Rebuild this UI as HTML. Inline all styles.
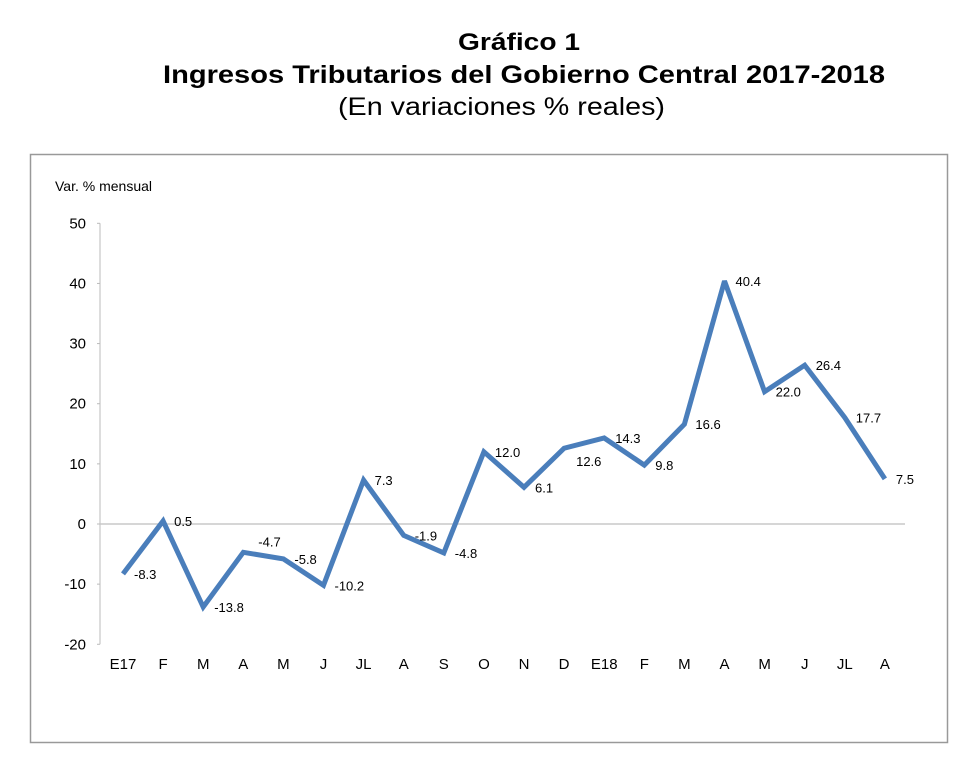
<!DOCTYPE html>
<html><head><meta charset="utf-8"><style>
body{margin:0;background:#fff;font-family:"Liberation Sans",Arial,sans-serif;}
#wrap{position:relative;width:980px;height:769px;overflow:hidden;}
</style></head><body>
<div id="wrap">
<svg width="980" height="140" style="position:absolute;left:0;top:0">
<text x="458" y="50" textLength="122" lengthAdjust="spacingAndGlyphs" font-size="24" font-weight="bold">Gráfico 1</text>
<text x="163" y="83" textLength="722" lengthAdjust="spacingAndGlyphs" font-size="25" font-weight="bold">Ingresos Tributarios del Gobierno Central 2017-2018</text>
<text x="338" y="115" textLength="327" lengthAdjust="spacingAndGlyphs" font-size="25">(En variaciones % reales)</text>
</svg>
<svg id="chart" width="980" height="769" style="position:absolute;left:0;top:0"></svg>
</div>
<script>
const categories=["E17","F","M","A","M","J","JL","A","S","O","N","D","E18","F","M","A","M","J","JL","A"];
const values=[-8.3,0.5,-13.8,-4.7,-5.8,-10.2,7.3,-1.9,-4.8,12.0,6.1,12.6,14.3,9.8,16.6,40.4,22.0,26.4,17.7,7.5];
const yTicks=[50,40,30,20,10,0,-10,-20];
const NS="http://www.w3.org/2000/svg";
const svg=document.getElementById('chart');
function y(v){return 524-v*6.014;}
function x(i){return 123+i*40.1;}
function mk(tag,attrs,name){const e=document.createElementNS(NS,tag);for(const k in attrs)e.setAttribute(k,attrs[k]);svg.appendChild(e);return e;}
mk('rect',{x:30.5,y:154.5,width:917,height:588,fill:'none',stroke:'#999','stroke-width':1.5},'plot-frame');
mk('line',{x1:100,y1:y(50),x2:100,y2:y(-20),stroke:'#bbb','stroke-width':1},'y-axis-line');
yTicks.forEach(v=>{
  mk('line',{x1:97,y1:y(v),x2:100,y2:y(v),stroke:'#bbb'},'y-tick');
  const t=mk('text',{x:86,y:y(v)+5,'text-anchor':'end','font-size':15},'y-tick-label');t.textContent=v;
});
mk('line',{x1:100,y1:y(0),x2:905,y2:y(0),stroke:'#c8c8c8','stroke-width':1.5},'zero-line');
const ttl=mk('text',{x:55,y:191,'font-size':14},'y-axis-title');ttl.textContent='Var. % mensual';
categories.forEach((c,i)=>{const t=mk('text',{x:x(i),y:669,'text-anchor':'middle','font-size':15},'x-tick-label');t.textContent=c;});
let d=values.map((v,i)=>(i?'L':'M')+x(i).toFixed(1)+' '+y(v).toFixed(1)).join(' ');
mk('path',{d:d,fill:'none',stroke:'#4a7ebb','stroke-width':5,'stroke-linejoin':'miter','stroke-miterlimit':3},'series-line');
values.forEach((v,i)=>{
  let dx=11,dy=5;
  if(i===3){dx=15;dy=-6;} if(i===11){dx=12;dy=18;}
  const t=mk('text',{x:x(i)+dx,y:y(v)+dy,'font-size':13},'data-label');t.textContent=v.toFixed(1);
});
</script>
</body></html>
